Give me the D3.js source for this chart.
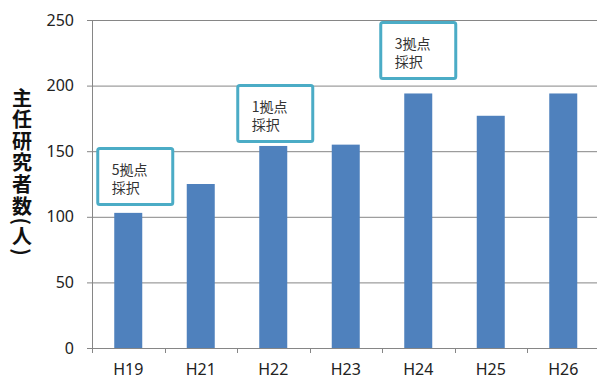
<!DOCTYPE html>
<html lang="ja">
<head>
<meta charset="UTF-8">
<title>主任研究者数</title>
<script src="https://d3js.org/d3.v7.min.js"></script>
<style>
  body { margin: 0; background: #fff; }
  svg { display: block; }
</style>
</head>
<body>
<script>
var years = ["H19", "H21", "H22", "H23", "H24", "H25", "H26"];
var researchers = [103, 125, 154, 155, 194, 177, 194];
var yTicks = [0, 50, 100, 150, 200, 250];
var noteYears = ["H19", "H22", "H24"];
var noteLines = [["5拠点", "採択"], ["1拠点", "採択"], ["3拠点", "採択"]];
var noteTops = [152, 200, 248];
var yTitle = "主任研究者数(人)";

var W = 597, H = 379;
var margin = {top: 20, left: 92, bottom: 31};
var plotW = 507.5, plotH = H - margin.top - margin.bottom;

var svg = d3.select("body").append("svg")
    .attr("width", W)
    .attr("height", H);

var x = d3.scaleBand().domain(years).range([0, plotW]);
var y = d3.scaleLinear().domain([0, 250]).range([plotH, 0]);

var g = svg.append("g")
    .attr("transform", "translate(" + margin.left + "," + margin.top + ")");

// gridlines
g.selectAll(".grid").data(yTicks.slice(1)).enter().append("line")
    .attr("x1", 0).attr("x2", plotW)
    .attr("y1", function(d) { return y(d) + 0.5; })
    .attr("y2", function(d) { return y(d) + 0.5; })
    .attr("stroke", "#868686").attr("stroke-width", 1);

// y axis
var yAxis = g.append("g")
    .call(d3.axisLeft(y).tickValues(yTicks).tickSize(5).tickPadding(13));
yAxis.select(".domain").attr("stroke", "#868686");
yAxis.selectAll(".tick line").attr("stroke", "#868686");
yAxis.selectAll("text")
    .attr("font-family", "'Noto Sans', sans-serif")
    .attr("font-size", 16)
    .attr("fill", "#222");

// bars
var barW = 28;
g.selectAll(".bar").data(researchers).enter().append("rect")
    .attr("x", function(d, i) { return x(years[i]) + x.bandwidth() / 2 - barW / 2; })
    .attr("y", function(d) { return y(d); })
    .attr("width", barW)
    .attr("height", function(d) { return plotH - y(d); })
    .attr("fill", "#4F81BD");

// x axis
var xg = g.append("g").attr("transform", "translate(0," + plotH + ")");
xg.append("line").attr("x1", 0).attr("x2", plotW)
    .attr("y1", 0.5).attr("y2", 0.5).attr("stroke", "#868686");
xg.selectAll(".xt").data(d3.range(years.length + 1)).enter().append("line")
    .attr("x1", function(i) { return Math.round(i * x.step()) + 0.5; })
    .attr("x2", function(i) { return Math.round(i * x.step()) + 0.5; })
    .attr("y1", 0).attr("y2", 5)
    .attr("stroke", "#868686");
xg.selectAll(".xl").data(years).enter().append("text")
    .attr("x", function(d) { return x(d) + x.bandwidth() / 2; })
    .attr("y", 27)
    .attr("text-anchor", "middle")
    .attr("font-family", "'Noto Sans', sans-serif")
    .attr("font-size", 16)
    .attr("fill", "#222")
    .text(function(d) { return d; });

// annotation boxes
var boxW = 75, boxH = 56;
var shifts = [7, 2, 0];
noteYears.forEach(function(yr, i) {
  var cx = x(yr) + x.bandwidth() / 2 + shifts[i];
  var top = y(noteTops[i]);
  var nb = g.append("g").attr("transform", "translate(" + (cx - boxW / 2) + "," + top + ")");
  nb.append("rect")
      .attr("width", boxW).attr("height", boxH)
      .attr("rx", 2)
      .attr("fill", "#fff")
      .attr("stroke", "#4BACC6")
      .attr("stroke-width", 3);
  nb.append("text")
      .attr("font-family", "'Noto Sans CJK JP', sans-serif")
      .attr("font-size", 14)
      .attr("fill", "#333")
    .selectAll("tspan").data(noteLines[i]).enter().append("tspan")
      .attr("x", 14)
      .attr("y", function(d, j) { return 26 + j * 18; })
      .text(function(d) { return d; });
});

// y title, vertical; half-width parens get rotated into arcs
svg.append("text")
    .attr("x", 22)
    .attr("y", 88)
    .attr("writing-mode", "vertical-rl")
    .style("text-orientation", "mixed")
    .attr("font-family", "'Noto Sans CJK JP', sans-serif")
    .attr("font-weight", "bold")
    .attr("font-size", 20)
    .attr("letter-spacing", 1.6)
    .attr("fill", "#111")
    .text(yTitle);
</script>
</body>
</html>
